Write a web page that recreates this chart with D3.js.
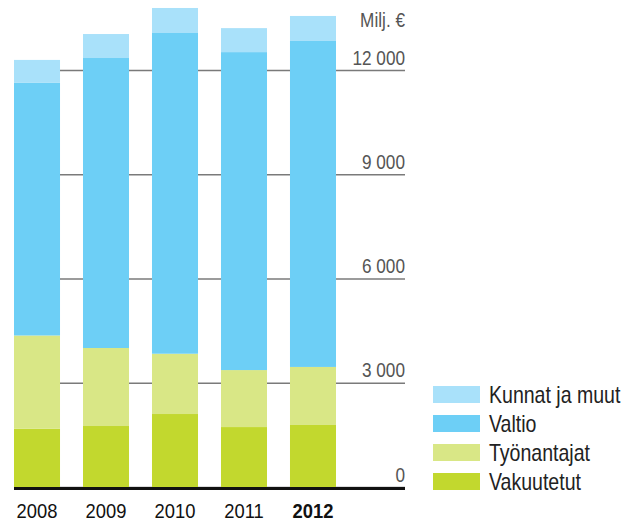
<!DOCTYPE html>
<html>
<head>
<meta charset="utf-8">
<script src="https://cdn.jsdelivr.net/npm/d3@7"></script>
<style>
  body { margin: 0; background: #fff; }
  svg { display: block; font-family: "Liberation Sans", Arial, sans-serif; }
</style>
</head>
<body>
<svg id="chart" width="628" height="521"></svg>
<script>
// data (Milj. €)
const years = ["2008", "2009", "2010", "2011", "2012"];
const vakuutetut = [1680, 1755, 2100, 1725, 1785];
const tyonantajat = [2680, 2245, 1735, 1640, 1670];
const valtio = [7270, 8345, 9230, 9150, 9380];
const kunnat = [660, 690, 720, 690, 720];
const seriesNames = ["Vakuutetut", "Työnantajat", "Valtio", "Kunnat ja muut"];
const tickValues = [0, 3000, 6000, 9000, 12000];
const unitLabel = "Milj. €";

// narrow look: squeeze the text horizontally
const squeeze = 0.86;

const colors = d3.scaleOrdinal()
	.domain(seriesNames)
	.range(["#c2d82e", "#d9e786", "#6dcff6", "#a9e1fa"]);

const rows = years.map((y, i) => ({
	year: y,
	"Vakuutetut": vakuutetut[i],
	"Työnantajat": tyonantajat[i],
	"Valtio": valtio[i],
	"Kunnat ja muut": kunnat[i]
}));

const stacked = d3.stack().keys(seriesNames)(rows);

const svg = d3.select("#chart");

const xScale = d3.scaleBand()
	.domain(years)
	.range([14, 336])
	.paddingInner(0.333)
	.paddingOuter(0);

const yScale = d3.scaleLinear()
	.domain([0, 12000])
	.range([487, 70]);

const fmt = d3.formatLocale({decimal: ",", thousands: " ", grouping: [3], currency: ["", " €"]}).format(",d");

// gridlines + tick labels
const yAxis = d3.axisLeft(yScale)
	.tickValues(tickValues)
	.tickSize(391)
	.tickFormat(fmt);

const gy = svg.append("g")
	.attr("transform", "translate(405,0)")
	.call(yAxis);
gy.select(".domain").remove();
gy.selectAll(".tick line")
	.attr("stroke", "#7a7a7a")
	.attr("stroke-width", 1.6);
gy.selectAll(".tick text")
	.attr("x", 0)
	.attr("y", 0)
	.attr("dy", null)
	.attr("transform", "translate(0,-6) scale(" + squeeze + ",1)")
	.attr("text-anchor", "end")
	.attr("fill", "#555")
	.style("font-size", "20px");

gy.append("text")
	.attr("transform", "translate(0," + (yScale(12000) - 43) + ") scale(" + squeeze + ",1)")
	.attr("text-anchor", "end")
	.attr("fill", "#555")
	.style("font-size", "20px")
	.text(unitLabel);

// bars
svg.append("g")
	.selectAll("g")
	.data(stacked)
	.enter().append("g")
	.attr("fill", d => colors(d.key))
	.selectAll("rect")
	.data(d => d)
	.enter().append("rect")
	.attr("x", d => xScale(d.data.year))
	.attr("width", xScale.bandwidth())
	.attr("y", d => yScale(d[1]))
	.attr("height", d => yScale(d[0]) - yScale(d[1]));

// baseline
svg.append("line")
	.attr("x1", 14)
	.attr("x2", 405)
	.attr("y1", yScale(0) + 1.5)
	.attr("y2", yScale(0) + 1.5)
	.attr("stroke", "#111")
	.attr("stroke-width", 3);

// x labels
svg.append("g")
	.selectAll("text")
	.data(years)
	.enter().append("text")
	.attr("transform", d => "translate(" + (xScale(d) + xScale.bandwidth() / 2) + ",518) scale(0.92,1)")
	.attr("text-anchor", "middle")
	.attr("fill", "#111")
	.style("font-size", "20px")
	.style("font-weight", (d, i) => i === years.length - 1 ? "bold" : "normal")
	.text(d => d);

// legend
const legend = svg.append("g")
	.attr("transform", "translate(433, 386)")
	.selectAll("g")
	.data(seriesNames.slice().reverse())
	.enter().append("g")
	.attr("transform", (d, i) => "translate(0," + i * 29 + ")");

legend.append("rect")
	.attr("width", 47)
	.attr("height", 17)
	.attr("fill", d => colors(d));

legend.append("text")
	.attr("transform", "translate(56,17) scale(0.85,1)")
	.attr("fill", "#222")
	.style("font-size", "23px")
	.text(d => d);
</script>
</body>
</html>
